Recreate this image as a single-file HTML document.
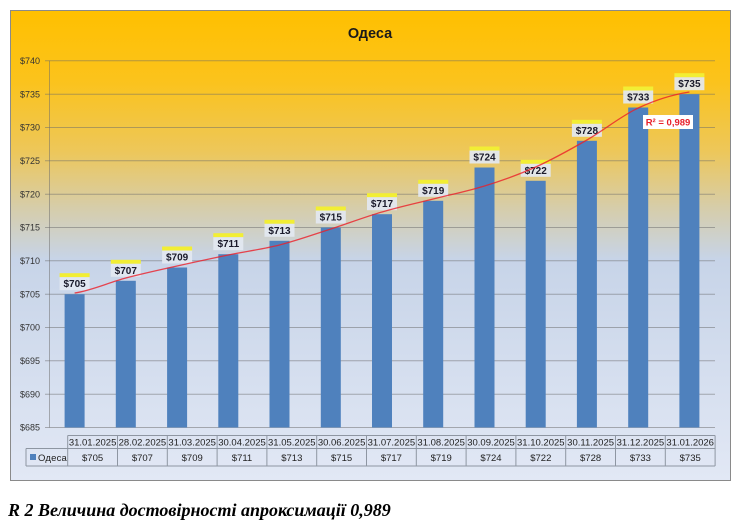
<!DOCTYPE html>
<html><head><meta charset="utf-8"><style>
html,body{margin:0;padding:0;background:#fff;width:739px;height:529px;overflow:hidden}
svg{display:block}
.t{font-family:"Liberation Sans","DejaVu Sans",sans-serif}
</style></head><body>
<svg width="739" height="529" viewBox="0 0 739 529" xmlns="http://www.w3.org/2000/svg">
<defs>
<linearGradient id="bg" x1="0" y1="0" x2="0" y2="1">
<stop offset="0" stop-color="#ffc000"/>
<stop offset="0.15" stop-color="#fbc31c"/>
<stop offset="0.30" stop-color="#edc75a"/>
<stop offset="0.42" stop-color="#d6cdaa"/>
<stop offset="0.53" stop-color="#c7d4e8"/>
<stop offset="1" stop-color="#e2e8f5"/>
</linearGradient>
</defs>
<rect x="10.5" y="10.5" width="720" height="470" fill="url(#bg)" stroke="#8a8a8a" stroke-width="1"/>
<text x="370" y="38" text-anchor="middle" class="t" font-size="14.5" font-weight="bold" fill="#1a1a1a">Одеса</text>

<!-- gridlines -->
<g stroke="rgba(105,105,105,0.5)" stroke-width="1">
<line x1="45" y1="60.8" x2="715" y2="60.8"/>
<line x1="45" y1="94.2" x2="715" y2="94.2"/>
<line x1="45" y1="127.5" x2="715" y2="127.5"/>
<line x1="45" y1="160.8" x2="715" y2="160.8"/>
<line x1="45" y1="194.2" x2="715" y2="194.2"/>
<line x1="45" y1="227.5" x2="715" y2="227.5"/>
<line x1="45" y1="260.8" x2="715" y2="260.8"/>
<line x1="45" y1="294.2" x2="715" y2="294.2"/>
<line x1="45" y1="327.5" x2="715" y2="327.5"/>
<line x1="45" y1="360.8" x2="715" y2="360.8"/>
<line x1="45" y1="394.2" x2="715" y2="394.2"/>
<line x1="45" y1="427.5" x2="715" y2="427.5"/>
<line x1="49.5" y1="60.8" x2="49.5" y2="427.5"/>
</g>
<g class="t" font-size="9" fill="#333" text-anchor="end">
<text x="40" y="64">$740</text>
<text x="40" y="97.4">$735</text>
<text x="40" y="130.7">$730</text>
<text x="40" y="164">$725</text>
<text x="40" y="197.4">$720</text>
<text x="40" y="230.7">$715</text>
<text x="40" y="264">$710</text>
<text x="40" y="297.4">$705</text>
<text x="40" y="330.7">$700</text>
<text x="40" y="364">$695</text>
<text x="40" y="397.4">$690</text>
<text x="40" y="430.7">$685</text>
</g>

<!-- bars -->
<g fill="#4f81bd">
<rect x="64.6" y="294.2" width="20" height="133.3"/>
<rect x="115.8" y="280.8" width="20" height="146.7"/>
<rect x="167.1" y="267.5" width="20" height="160"/>
<rect x="218.3" y="254.2" width="20" height="173.3"/>
<rect x="269.5" y="240.8" width="20" height="186.7"/>
<rect x="320.8" y="227.5" width="20" height="200"/>
<rect x="372" y="214.2" width="20" height="213.3"/>
<rect x="423.2" y="200.8" width="20" height="226.7"/>
<rect x="474.5" y="167.5" width="20" height="260"/>
<rect x="525.7" y="180.8" width="20" height="246.7"/>
<rect x="576.9" y="140.8" width="20" height="286.7"/>
<rect x="628.2" y="107.5" width="20" height="320"/>
<rect x="679.4" y="94.2" width="20" height="333.3"/>
</g>

<!-- data labels -->
<g>
<g fill="#f2ee34">
<rect x="59.6" y="273.2" width="30" height="4"/>
<rect x="110.8" y="259.8" width="30" height="4"/>
<rect x="162.1" y="246.5" width="30" height="4"/>
<rect x="213.3" y="233.2" width="30" height="4"/>
<rect x="264.5" y="219.8" width="30" height="4"/>
<rect x="315.8" y="206.5" width="30" height="4"/>
<rect x="367" y="193.2" width="30" height="4"/>
<rect x="418.2" y="179.8" width="30" height="4"/>
<rect x="469.5" y="146.5" width="30" height="4"/>
<rect x="520.7" y="159.8" width="30" height="4"/>
<rect x="571.9" y="119.8" width="30" height="4"/>
<rect x="623.2" y="86.5" width="30" height="4"/>
<rect x="674.4" y="73.2" width="30" height="4"/>
</g>
<g fill="#e3e8f1" fill-opacity="0.92">
<rect x="59.6" y="277.2" width="30" height="13"/>
<rect x="110.8" y="263.8" width="30" height="13"/>
<rect x="162.1" y="250.5" width="30" height="13"/>
<rect x="213.3" y="237.2" width="30" height="13"/>
<rect x="264.5" y="223.8" width="30" height="13"/>
<rect x="315.8" y="210.5" width="30" height="13"/>
<rect x="367" y="197.2" width="30" height="13"/>
<rect x="418.2" y="183.8" width="30" height="13"/>
<rect x="469.5" y="150.5" width="30" height="13"/>
<rect x="520.7" y="163.8" width="30" height="13"/>
<rect x="571.9" y="123.8" width="30" height="13"/>
<rect x="623.2" y="90.5" width="30" height="13"/>
<rect x="674.4" y="77.2" width="30" height="13"/>
</g>
<g class="t" font-size="10" font-weight="bold" fill="#1a1a2a" text-anchor="middle">
<text x="74.6" y="287.2">$705</text>
<text x="125.8" y="273.8">$707</text>
<text x="177.1" y="260.5">$709</text>
<text x="228.3" y="247.2">$711</text>
<text x="279.5" y="233.8">$713</text>
<text x="330.8" y="220.5">$715</text>
<text x="382" y="207.2">$717</text>
<text x="433.2" y="193.8">$719</text>
<text x="484.5" y="160.5">$724</text>
<text x="535.7" y="173.8">$722</text>
<text x="586.9" y="133.8">$728</text>
<text x="638.2" y="100.5">$733</text>
<text x="689.4" y="87.2">$735</text>
</g>
</g>

<!-- trendline -->
<path d="M74.6,293 C91.7,290.5 108.7,282.5 125.8,278 C142.9,273.5 160,269.8 177.1,266 C194.2,262.2 211.2,258.5 228.3,255 C245.4,251.5 262.4,249.3 279.5,245 C296.6,240.7 313.7,234.5 330.8,229 C347.9,223.5 364.9,217 382,212 C399.1,207 416.1,203.3 433.2,199 C450.3,194.7 467.4,191.3 484.5,186 C501.6,180.7 518.6,174.7 535.7,167 C552.8,159.3 569.8,149.8 586.9,140 C604,130.2 621.1,116 638.2,108 C655.3,100 672.3,94.7 689.4,92" fill="none" stroke="rgba(235,30,40,0.8)" stroke-width="1.3"/>

<!-- R2 label -->
<rect x="643" y="115" width="50" height="14" fill="#ffffff"/>
<text x="668" y="125.5" text-anchor="middle" class="t" font-size="9.5" font-weight="bold" fill="#e8202a">R² = 0,989</text>

<!-- data table -->
<g stroke="#8e96a2" stroke-width="1" fill="none">
<line x1="67.7" y1="435.5" x2="715.1" y2="435.5"/>
<line x1="26" y1="448.5" x2="715.1" y2="448.5"/>
<line x1="26" y1="466" x2="715.1" y2="466"/>
<line x1="26" y1="448.5" x2="26" y2="466"/>
<line x1="67.7" y1="435.5" x2="67.7" y2="466"/>
<line x1="117.5" y1="435.5" x2="117.5" y2="466"/>
<line x1="167.3" y1="435.5" x2="167.3" y2="466"/>
<line x1="217.1" y1="435.5" x2="217.1" y2="466"/>
<line x1="266.9" y1="435.5" x2="266.9" y2="466"/>
<line x1="316.7" y1="435.5" x2="316.7" y2="466"/>
<line x1="366.5" y1="435.5" x2="366.5" y2="466"/>
<line x1="416.3" y1="435.5" x2="416.3" y2="466"/>
<line x1="466.1" y1="435.5" x2="466.1" y2="466"/>
<line x1="515.9" y1="435.5" x2="515.9" y2="466"/>
<line x1="565.7" y1="435.5" x2="565.7" y2="466"/>
<line x1="615.5" y1="435.5" x2="615.5" y2="466"/>
<line x1="665.3" y1="435.5" x2="665.3" y2="466"/>
<line x1="715.1" y1="435.5" x2="715.1" y2="466"/>
</g>
<g class="t" font-size="9.5" fill="#222" text-anchor="middle">
<text x="92.6" y="445.5">31.01.2025</text>
<text x="142.4" y="445.5">28.02.2025</text>
<text x="192.2" y="445.5">31.03.2025</text>
<text x="242" y="445.5">30.04.2025</text>
<text x="291.8" y="445.5">31.05.2025</text>
<text x="341.6" y="445.5">30.06.2025</text>
<text x="391.4" y="445.5">31.07.2025</text>
<text x="441.2" y="445.5">31.08.2025</text>
<text x="491" y="445.5">30.09.2025</text>
<text x="540.8" y="445.5">31.10.2025</text>
<text x="590.6" y="445.5">30.11.2025</text>
<text x="640.4" y="445.5">31.12.2025</text>
<text x="690.2" y="445.5">31.01.2026</text>
<text x="92.6" y="460.8">$705</text>
<text x="142.4" y="460.8">$707</text>
<text x="192.2" y="460.8">$709</text>
<text x="242" y="460.8">$711</text>
<text x="291.8" y="460.8">$713</text>
<text x="341.6" y="460.8">$715</text>
<text x="391.4" y="460.8">$717</text>
<text x="441.2" y="460.8">$719</text>
<text x="491" y="460.8">$724</text>
<text x="540.8" y="460.8">$722</text>
<text x="590.6" y="460.8">$728</text>
<text x="640.4" y="460.8">$733</text>
<text x="690.2" y="460.8">$735</text>
</g>
<rect x="30" y="454" width="6" height="6" fill="#4f81bd"/>
<text x="38" y="460.8" class="t" font-size="9.5" fill="#222" letter-spacing="0.2">Одеса</text>

<!-- caption -->
<text x="8" y="516" font-family="'Liberation Serif','DejaVu Serif',serif" font-size="18" font-weight="bold" font-style="italic" fill="#000">R 2 Величина достовірності апроксимації 0,989</text>
</svg>
</body></html>
